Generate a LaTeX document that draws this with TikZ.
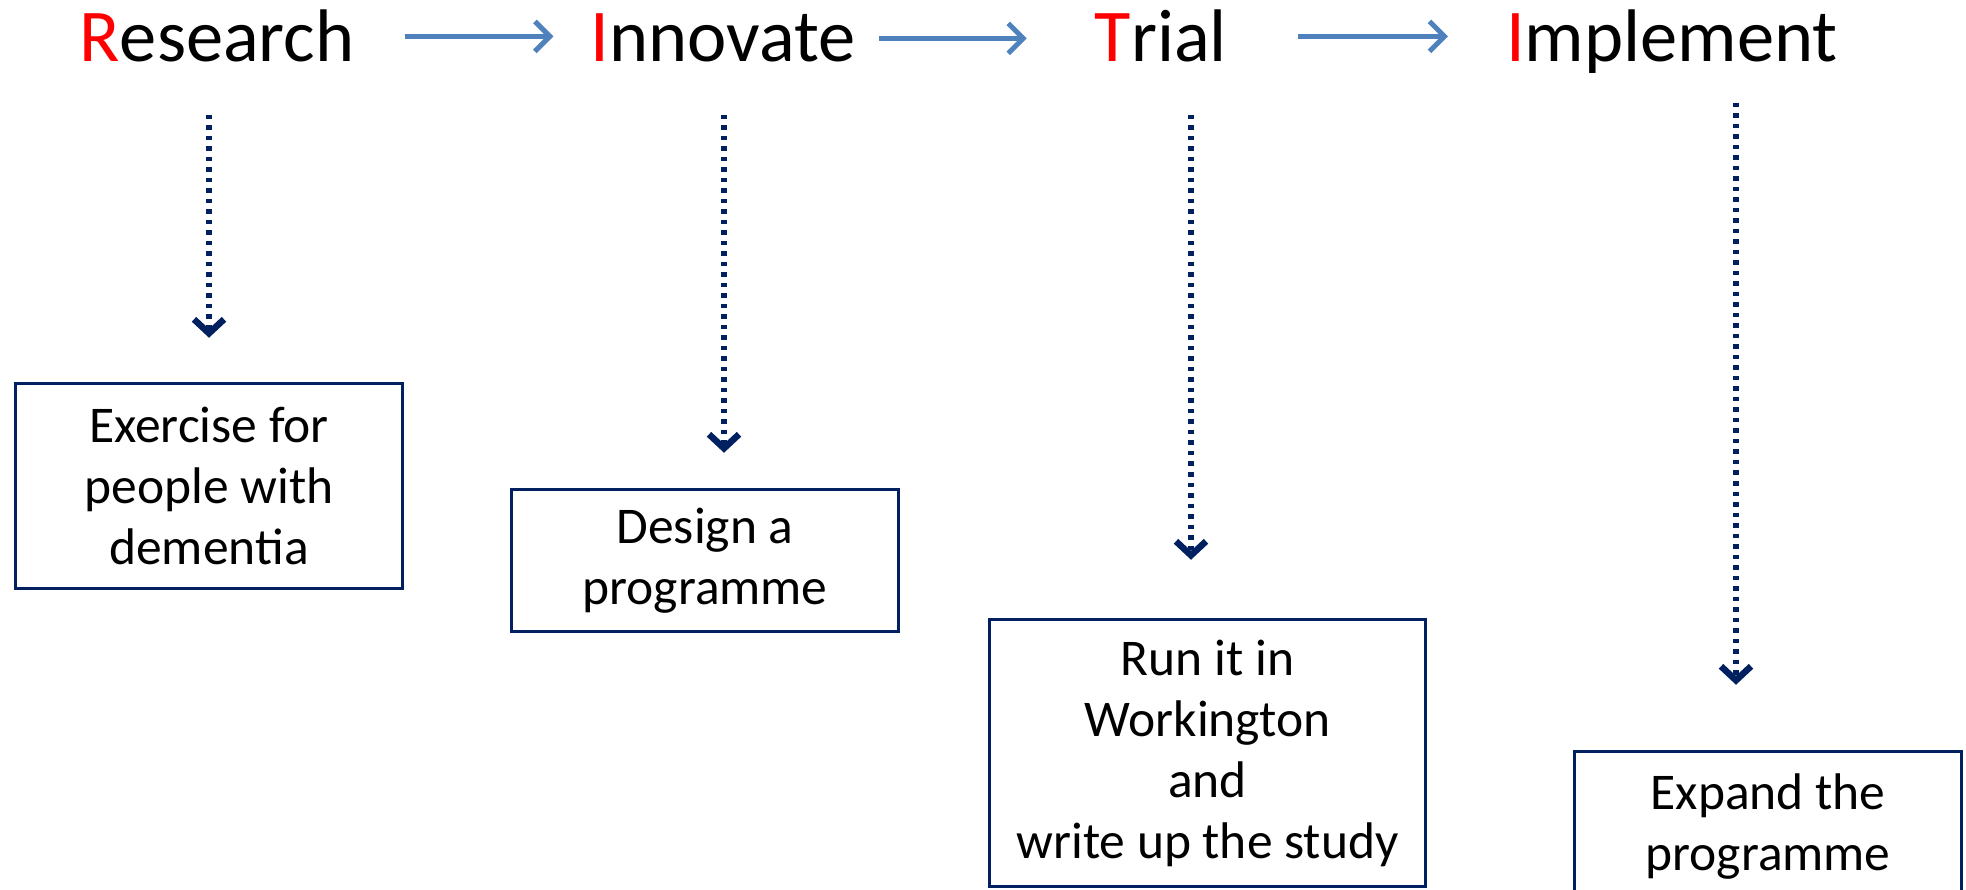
\documentclass[tikz,border=0pt]{standalone}
\usepackage{fontspec}
\setmainfont{Carlito}
\usetikzlibrary{arrows.meta}
\definecolor{navy}{HTML}{002060}
\definecolor{ablue}{HTML}{4F81BD}
\definecolor{rred}{HTML}{FF0000}
\begin{document}
\begin{tikzpicture}[x=1pt,y=-1pt,
  title/.style={font=\fontsize{74.5}{88}\selectfont, anchor=base, inner sep=0pt},
  flow/.style={draw=ablue, line width=5pt, -{Straight Barb[length=15pt,width=30pt,line width=5pt]}},
  dotarrow/.style={draw=navy, line width=6pt, dash pattern=on 4.5pt off 6pt,
     -{Straight Barb[length=14pt,width=30pt,line width=6.5pt]}},
  box/.style={draw=navy, line width=3.5pt, align=center, inner sep=0pt,
     font=\fontsize{51.5}{61}\selectfont}
]
\useasboundingbox (0,0) rectangle (1966,890);
\clip (0,0) rectangle (1966,890);

% titles
\node[title] (research) at (217,62) {\textcolor{rred}{R}esearch};
\node[title] (innovate) at (723,62) {\textcolor{rred}{I}nnovate};
\node[title] (trial) at (1161,62) {\textcolor{rred}{T}rial};
\node[title] (implement) at (1672,62) {\textcolor{rred}{I}mplement};

% boxes
\node[box, minimum width=387pt, minimum height=205pt] (box1) at (209,486)
  {Exercise for\\people with\\dementia};
\node[box, minimum width=387pt, minimum height=142pt] (box2) at (705,560.5)
  {Design a\\programme};
\node[box, minimum width=436pt, minimum height=267pt] (box3) at (1207.5,753)
  {Run it in\\Workington\\and\\write up the study};
\node[box, minimum width=387pt, minimum height=150pt] (box4) at (1768,826.5)
  {Expand the\\programme};

% horizontal flow arrows
\draw[flow, shorten <=50pt, shorten >=37pt] (research.east) -- (research.east -| innovate.west);
\draw[flow, shorten <=23pt, shorten >=68pt] (innovate.east) -- (innovate.east -| trial.west);
\draw[flow, shorten <=71pt, shorten >=58pt] (trial.east) -- (trial.east -| implement.west);

% dotted down arrows
\draw[dotarrow, shorten <=53pt, shorten >=44pt]
  ([xshift=-8pt]research.base) -- ([xshift=-8pt]research.base |- box1.north);
\draw[dotarrow, shorten <=53pt, shorten >=35pt]
  ([xshift=1pt]innovate.base) -- ([xshift=1pt]innovate.base |- box2.north);
\draw[dotarrow, shorten <=53pt, shorten >=58pt]
  ([xshift=30pt]trial.base) -- ([xshift=30pt]trial.base |- box3.north);
\draw[dotarrow, shorten <=41pt, shorten >=65pt]
  ([xshift=64pt]implement.base) -- ([xshift=64pt]implement.base |- box4.north);
\end{tikzpicture}
\end{document}
